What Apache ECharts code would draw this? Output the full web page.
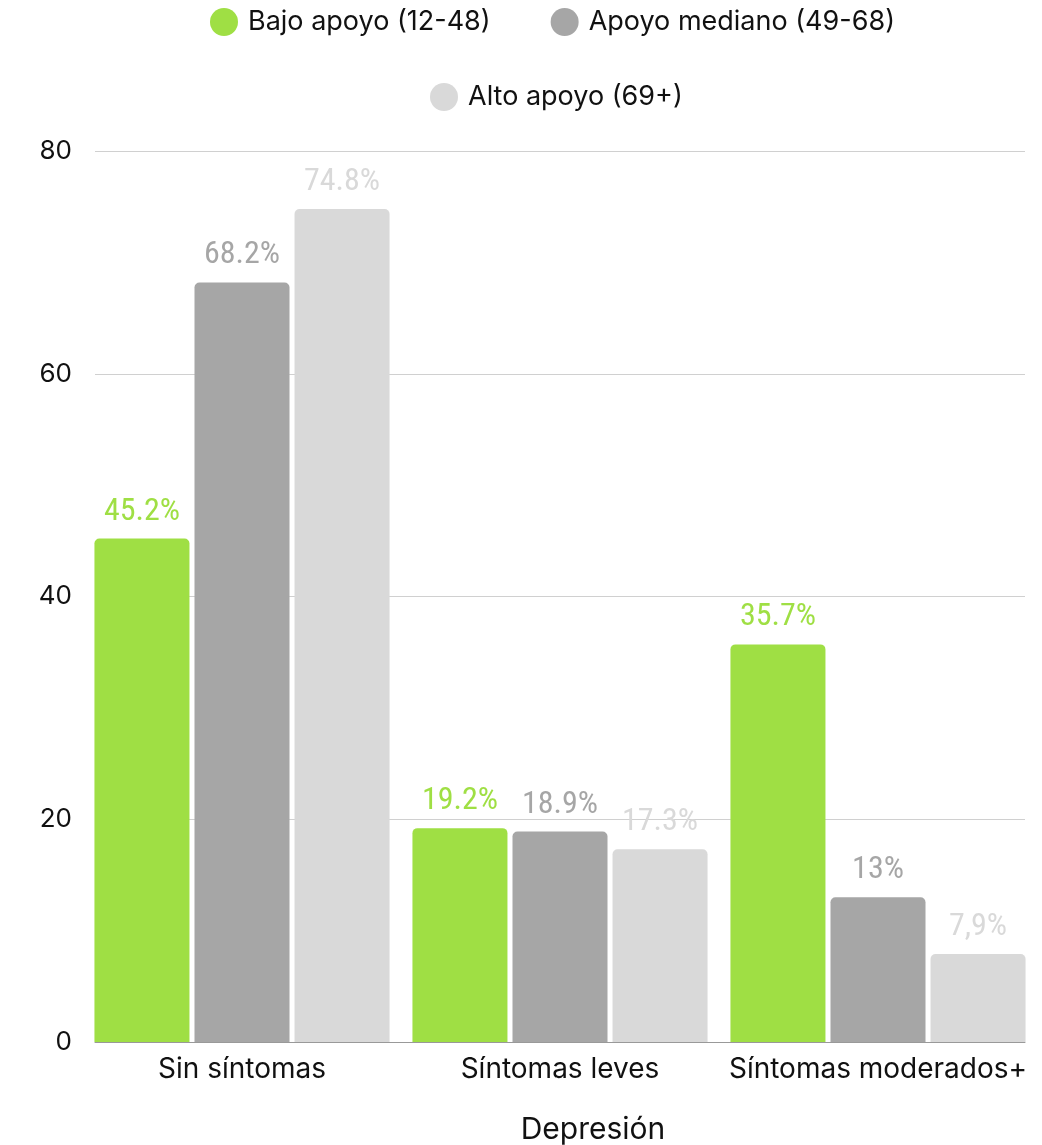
<!DOCTYPE html>
<html><head><meta charset="utf-8">
<script src="https://cdn.jsdelivr.net/npm/echarts@6/dist/echarts.min.js"></script>
<style>html,body{margin:0;padding:0;background:#fff}#c{width:1042px;height:1145px}</style>
</head><body><div id="c"></div>
<script>
const categories = ['Sin síntomas', 'Síntomas leves', 'Síntomas moderados+'];
const seriesNames = ['Bajo apoyo (12-48)', 'Apoyo mediano (49-68)', 'Alto apoyo (69+)'];
const bajo = [45.2, 19.2, 35.7];
const mediano = [68.2, 18.9, 13];
const alto = [74.8, 17.3, 7.9];
const bajoLabels = ['45.2%', '19.2%', '35.7%'];
const medianoLabels = ['68.2%', '18.9%', '13%'];
const altoLabels = ['74.8%', '17.3%', '7,9%'];
const yTicks = [0, 20, 40, 60, 80];
const axisTitle = 'Depresión';

const colors = ['#9fdf44', '#a6a6a6', '#d9d9d9'];
const FONT = 'Inter, Roboto, sans-serif';
const VFONT = '"Liberation Sans Narrow", "Roboto Condensed", Roboto, sans-serif';

function mk(name, data, labels, i) {
  return {
    name, type: 'bar', data, xAxisIndex: 0, yAxisIndex: 0,
    barGap: '5.3%', barCategoryGap: '7.2%',
    itemStyle: { color: colors[i], borderRadius: [5, 5, 0, 0] },
    label: {
      show: true, position: 'top', distance: 11,
      color: colors[i], fontFamily: VFONT, fontSize: 32,
      formatter: p => labels[p.dataIndex]
    }
  };
}

const legendText = { fontFamily: FONT, fontSize: 27, color: '#111', padding: [0, 0, 0, 5] };

const chart = echarts.init(document.getElementById('c'), null, { renderer: 'canvas' });
chart.setOption({
  animation: false,
  backgroundColor: '#fff',
  legend: [
    { data: seriesNames.slice(0, 2), top: 3, left: 205, icon: 'circle', itemWidth: 28, itemHeight: 28, itemGap: 60,
      textStyle: legendText },
    { data: seriesNames.slice(2), top: 78, left: 425, icon: 'circle', itemWidth: 28, itemHeight: 28,
      textStyle: legendText }
  ],
  title: { text: axisTitle, left: 588, top: 1110, textAlign: 'center',
    textStyle: { fontFamily: FONT, fontSize: 30, fontWeight: 'normal', color: '#111' } },
  grid: [
    { left: 83, right: 5, top: 151, bottom: 103 },
    { left: 95, right: 17, top: 151, bottom: 103 }
  ],
  xAxis: [
    { type: 'category', gridIndex: 0, data: categories,
      axisLine: { show: false }, axisTick: { show: false },
      axisLabel: { interval: 0, fontFamily: FONT, fontSize: 28, color: '#111', margin: 14 } },
    { type: 'value', gridIndex: 1, min: 0, max: 1, show: true,
      axisLine: { show: true, lineStyle: { color: '#999', width: 1 } },
      axisTick: { show: false }, axisLabel: { show: false }, splitLine: { show: false } }
  ],
  yAxis: [
    { type: 'value', gridIndex: 0, min: 0, max: 80, interval: 20, show: false },
    { type: 'value', gridIndex: 1, min: yTicks[0], max: yTicks[yTicks.length - 1], interval: 20,
      axisLine: { show: false }, axisTick: { show: false },
      axisLabel: { fontFamily: FONT, fontSize: 26, color: '#111', margin: 23 },
      splitLine: { lineStyle: { color: '#d0d0d0', width: 1 } } }
  ],
  series: [
    mk(seriesNames[0], bajo, bajoLabels, 0),
    mk(seriesNames[1], mediano, medianoLabels, 1),
    mk(seriesNames[2], alto, altoLabels, 2)
  ]
});
</script></body></html>
